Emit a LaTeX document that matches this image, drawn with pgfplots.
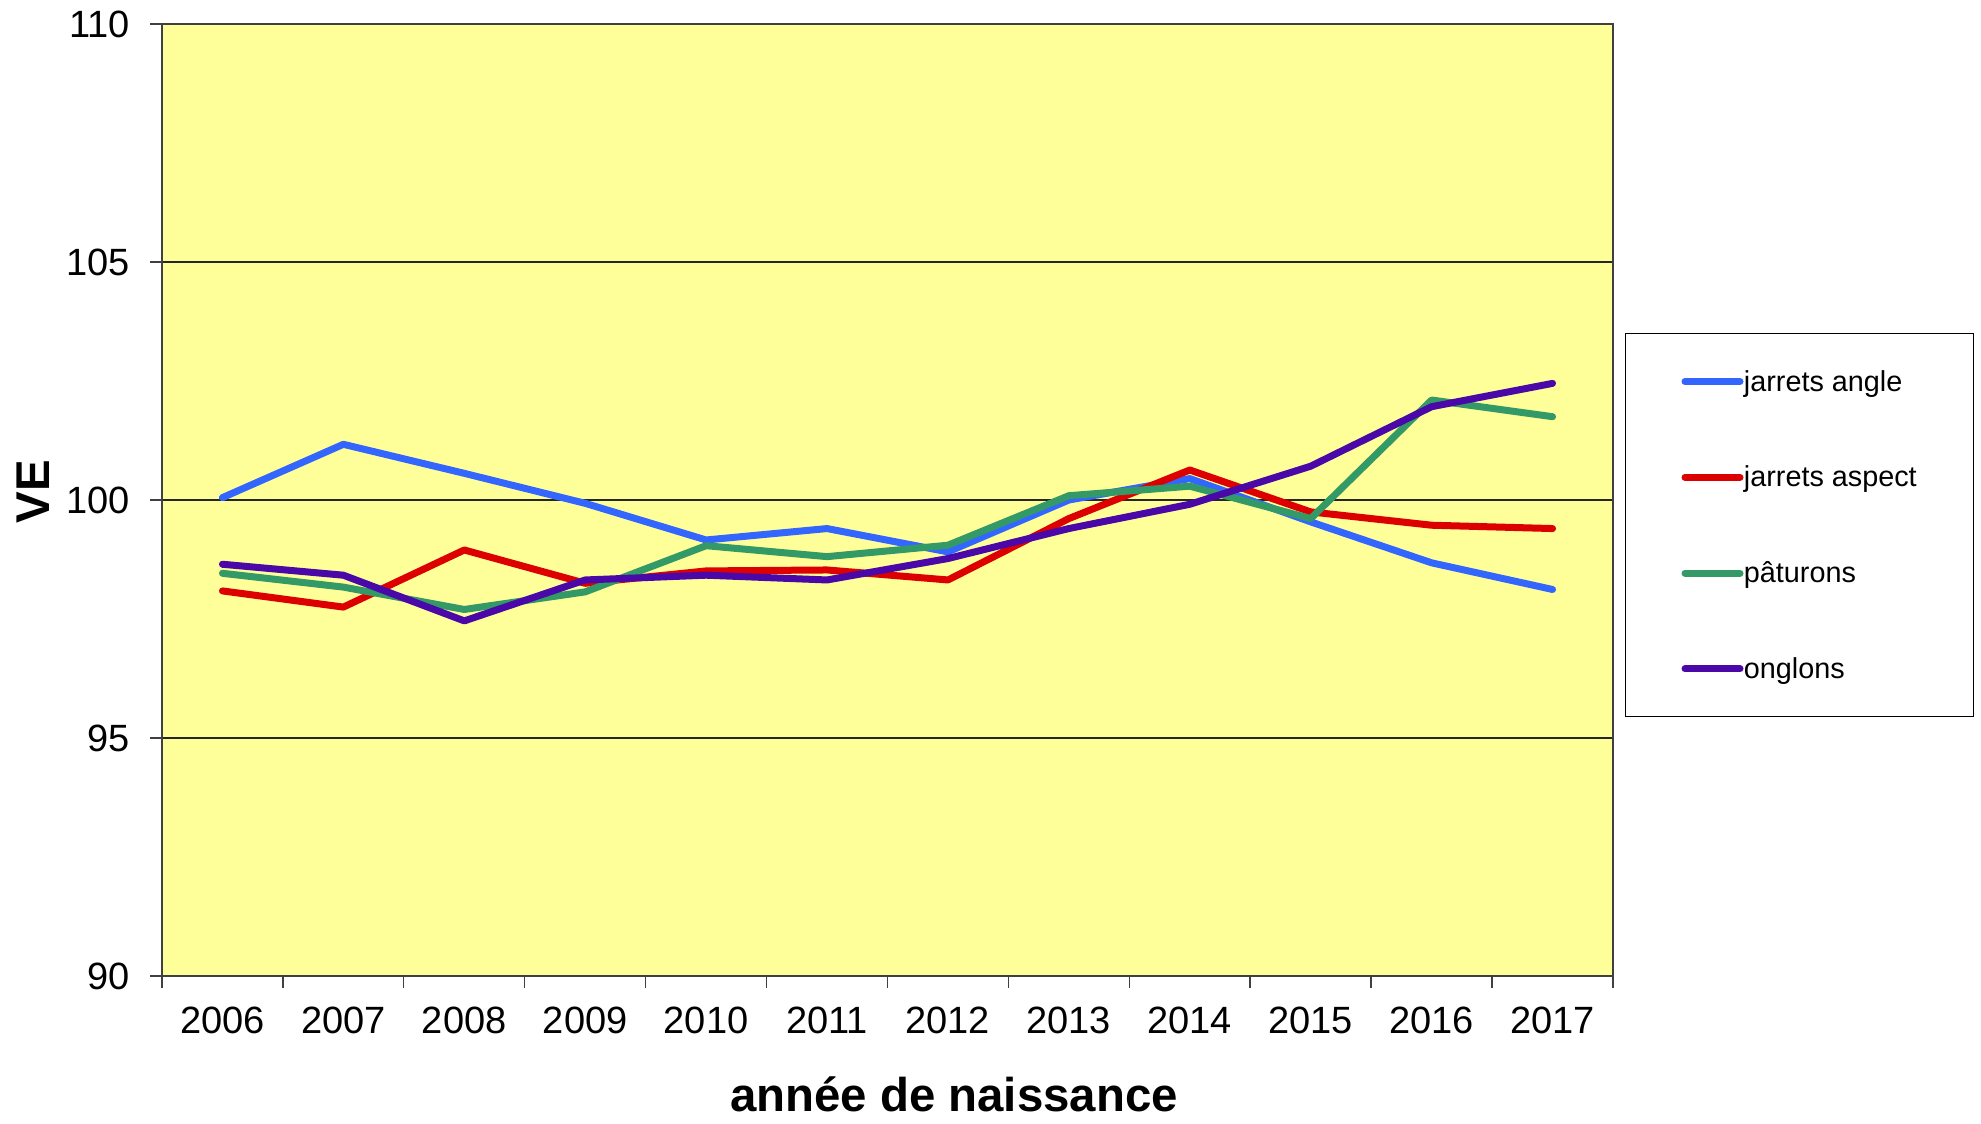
\documentclass[border=0pt]{standalone}
\usepackage{pgfplots}
\pgfplotsset{compat=1.18}
\usepackage{fontspec}
\setmainfont{Liberation Sans}
\definecolor{bgyellow}{HTML}{FFFF99}
\definecolor{cblue}{HTML}{3366FF}
\definecolor{cred}{HTML}{DD0000}
\definecolor{cgreen}{HTML}{339966}
\definecolor{cpurple}{HTML}{4A08A8}
\definecolor{axgray}{HTML}{404040}
\begin{document}
\begin{tikzpicture}
\path[use as bounding box] (0,0) rectangle (990.5pt,562pt);
\begin{axis}[
  at={(81pt,74pt)}, anchor=south west,
  scale only axis, width=725.5pt, height=476pt,
  xmin=2005.5, xmax=2017.5, ymin=90, ymax=110,
  ytick={90,95,...,110},
  xtick={2005.5,2006.5,...,2017.5},
  xticklabels={2006,2007,2008,2009,2010,2011,2012,2013,2014,2015,2016,2017,{}},
  /pgf/number format/assume math mode=true,
  tick label style={font=\fontsize{19}{23}\selectfont, inner sep=0pt},
  xticklabel style={anchor=north, xshift=30.23pt, yshift=-9.5pt},
  yticklabel style={anchor=east, xshift=-9.8pt},
  tick align=outside, tick pos=left, major tick length=6pt,
  tick style={draw=axgray, line width=0.7pt},
  axis line style={draw=axgray, line width=0.8pt},
  ymajorgrids, major grid style={draw=black!85, line width=0.6pt},
  axis background/.style={fill=bgyellow},
  xlabel={année de naissance}, ylabel={VE},
  label style={font=\fontsize{23.7}{28}\selectfont\bfseries},
  xlabel style={at={(axis description cs:0.5458,-0.1425)}, anchor=base},
  ylabel style={at={(axis description cs:-0.0772,0.5084)}, anchor=base, rotate=0},
  legend style={at={(axis description cs:1.00827,0.6754)}, anchor=north west,
    draw=black, line width=0.5pt, fill=white,
    inner xsep=28pt, inner ysep=17pt, row sep=33.9pt,
    font=\fontsize{14.4}{17}\selectfont,
    nodes={inner sep=0pt, inner xsep=0.2pt, text height=11.8pt, text depth=2.2pt}},
  legend cell align=left,
  legend image code/.code={\draw[#1, line cap=round] (0pt,0pt) -- (27.5pt,0pt);},
  every axis plot/.append style={line width=3.5pt, line join=round, line cap=round, mark=none},
]
\addplot[cblue] coordinates {(2006,100.05) (2007,101.17) (2008,100.56) (2009,99.93) (2010,99.16) (2011,99.40) (2012,98.91) (2013,100.00) (2014,100.45) (2015,99.54) (2016,98.68) (2017,98.12)};
\addlegendentry{jarrets angle}
\addplot[cred] coordinates {(2006,98.09) (2007,97.75) (2008,98.95) (2009,98.25) (2010,98.51) (2011,98.53) (2012,98.32) (2013,99.61) (2014,100.63) (2015,99.75) (2016,99.47) (2017,99.40)};
\addlegendentry{jarrets aspect}
\addplot[cgreen] coordinates {(2006,98.46) (2007,98.17) (2008,97.70) (2009,98.07) (2010,99.04) (2011,98.81) (2012,99.05) (2013,100.09) (2014,100.29) (2015,99.61) (2016,102.10) (2017,101.75)};
\addlegendentry{pâturons}
\addplot[cpurple] coordinates {(2006,98.65) (2007,98.42) (2008,97.46) (2009,98.32) (2010,98.42) (2011,98.32) (2012,98.77) (2013,99.40) (2014,99.91) (2015,100.71) (2016,101.96) (2017,102.45)};
\addlegendentry{onglons}
\end{axis}
\end{tikzpicture}
\end{document}
